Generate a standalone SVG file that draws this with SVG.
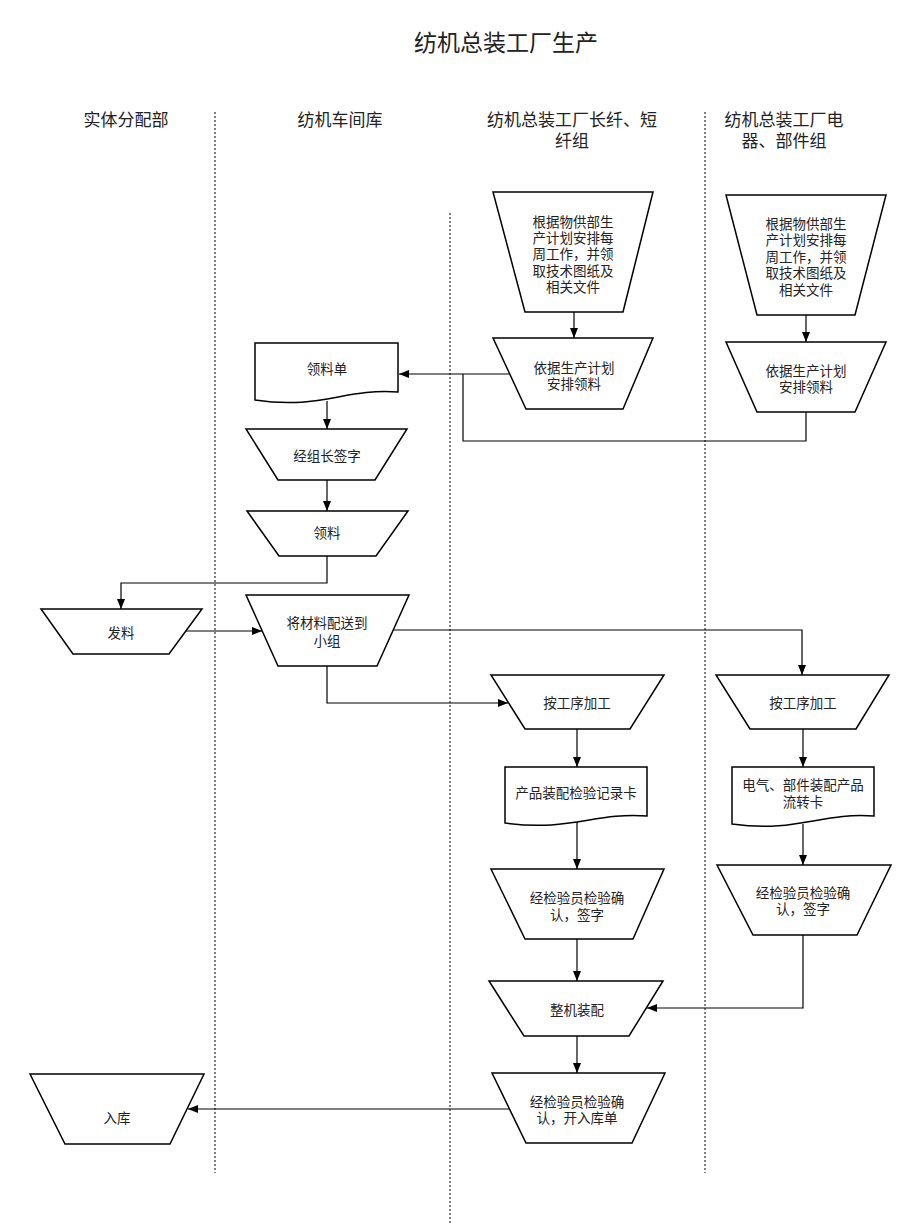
<svg xmlns="http://www.w3.org/2000/svg" width="920" height="1227" viewBox="0 0 920 1227">
<style>
text{font-family:"Noto Sans CJK SC","Noto Sans",sans-serif;fill:#222;text-anchor:middle}
.t{font-size:23px}
.h{font-size:17px}
.n{font-size:13.5px}
.s{fill:#fff;stroke:#000;stroke-width:1.5}
.c{fill:none;stroke:#000;stroke-width:1.2}
.d{stroke:#000;stroke-width:1;stroke-dasharray:2 2}
</style>
<defs>
<marker id="a" markerWidth="10" markerHeight="8" refX="10" refY="4" orient="auto" markerUnits="userSpaceOnUse">
<path d="M0,0 L10,4 L0,8 Z" fill="#000"/>
</marker>
</defs>
<rect width="920" height="1227" fill="#fff"/>
<text class="t" x="506" y="51">纺机总装工厂生产</text>
<g id="headers">
<text class="h" x="126" y="126">实体分配部</text>
<text class="h" x="340" y="126">纺机车间库</text>
<text class="h" x="572" y="126">纺机总装工厂长纤、短</text>
<text class="h" x="572" y="147">纤组</text>
<text class="h" x="784" y="126">纺机总装工厂电</text>
<text class="h" x="784" y="147">器、部件组</text>
</g>
<g id="dividers">
<line class="d" x1="215" y1="112" x2="215" y2="1173"/>
<line class="d" x1="450" y1="213" x2="450" y2="1225"/>
<line class="d" x1="705" y1="112" x2="705" y2="1173"/>
</g>
<g id="connectors">
<line class="c" x1="574" y1="312" x2="574" y2="338" marker-end="url(#a)"/>
<line class="c" x1="806" y1="315" x2="806" y2="342" marker-end="url(#a)"/>
<polyline class="c" points="509,374 399,374" marker-end="url(#a)"/>
<polyline class="c" points="806,412 806,441 463,441 463,374"/>
<line class="c" x1="327" y1="401" x2="327" y2="429" marker-end="url(#a)"/>
<line class="c" x1="327" y1="480" x2="327" y2="511" marker-end="url(#a)"/>
<polyline class="c" points="327,556 327,583 121,583 121,609" marker-end="url(#a)"/>
<line class="c" x1="186" y1="631" x2="262" y2="631" marker-end="url(#a)"/>
<polyline class="c" points="393,630 802,630 802,675" marker-end="url(#a)"/>
<polyline class="c" points="327,666 327,703 508,703" marker-end="url(#a)"/>
<line class="c" x1="577" y1="729" x2="577" y2="767" marker-end="url(#a)"/>
<line class="c" x1="803" y1="729" x2="803" y2="767" marker-end="url(#a)"/>
<line class="c" x1="577" y1="822" x2="577" y2="869" marker-end="url(#a)"/>
<line class="c" x1="803" y1="824" x2="803" y2="865" marker-end="url(#a)"/>
<line class="c" x1="577" y1="939" x2="577" y2="981" marker-end="url(#a)"/>
<polyline class="c" points="803,935 803,1008 647,1008" marker-end="url(#a)"/>
<line class="c" x1="577" y1="1036" x2="577" y2="1073" marker-end="url(#a)"/>
<line class="c" x1="509" y1="1109" x2="188" y2="1109" marker-end="url(#a)"/>
</g>
<g id="n1">
<polygon class="s" points="493,192 653,192 623,312 525,312"/>
<text class="n" x="573" y="227">根据物供部生</text>
<text class="n" x="573" y="243">产计划安排每</text>
<text class="n" x="573" y="259">周工作，并领</text>
<text class="n" x="573" y="276">取技术图纸及</text>
<text class="n" x="573" y="292">相关文件</text>
</g>
<g id="n2">
<polygon class="s" points="726,195 886,195 855,315 757,315"/>
<text class="n" x="806" y="229">根据物供部生</text>
<text class="n" x="806" y="245">产计划安排每</text>
<text class="n" x="806" y="262">周工作，并领</text>
<text class="n" x="806" y="278">取技术图纸及</text>
<text class="n" x="806" y="295">相关文件</text>
</g>
<g id="n3">
<polygon class="s" points="493,338 653,338 623,409 526,409"/>
<text class="n" x="574" y="373">依据生产计划</text>
<text class="n" x="574" y="389">安排领料</text>
</g>
<g id="n4">
<polygon class="s" points="726,342 886,342 855,412 757,412"/>
<text class="n" x="806" y="376">依据生产计划</text>
<text class="n" x="806" y="392">安排领料</text>
</g>
<g id="n5">
<path class="s" d="M255,343 H398 V392 C345,388 320,410 255,400 Z"/>
<text class="n" x="327" y="374">领料单</text>
</g>
<g id="n6">
<polygon class="s" points="246,429 407,429 375,480 278,480"/>
<text class="n" x="327" y="461">经组长签字</text>
</g>
<g id="n7">
<polygon class="s" points="247,511 408,511 376,556 279,556"/>
<text class="n" x="327" y="538">领料</text>
</g>
<g id="n8">
<polygon class="s" points="41,609 202,609 169,654 73,654"/>
<text class="n" x="121" y="638">发料</text>
</g>
<g id="n9">
<polygon class="s" points="246,595 409,595 377,666 278,666"/>
<text class="n" x="327" y="628">将材料配送到</text>
<text class="n" x="327" y="646">小组</text>
</g>
<g id="n10">
<polygon class="s" points="491,675 664,675 630,729 525,729"/>
<text class="n" x="577" y="708">按工序加工</text>
</g>
<g id="n11">
<polygon class="s" points="716,675 889,675 856,729 750,729"/>
<text class="n" x="803" y="708">按工序加工</text>
</g>
<g id="n12">
<path class="s" d="M505,767 H647 V816 C595,812 570,832 505,823 Z"/>
<text class="n" x="576" y="798">产品装配检验记录卡</text>
</g>
<g id="n13">
<path class="s" d="M732,767 H874 V816 C822,812 797,833 732,824 Z"/>
<text class="n" x="803" y="790">电气、部件装配产品</text>
<text class="n" x="803" y="807">流转卡</text>
</g>
<g id="n14">
<polygon class="s" points="491,869 664,869 633,939 525,939"/>
<text class="n" x="577" y="903">经检验员检验确</text>
<text class="n" x="577" y="920">认，签字</text>
</g>
<g id="n15">
<polygon class="s" points="717,865 891,865 857,935 753,935"/>
<text class="n" x="803" y="898">经检验员检验确</text>
<text class="n" x="803" y="914">认，签字</text>
</g>
<g id="n16">
<polygon class="s" points="489,981 663,981 629,1036 524,1036"/>
<text class="n" x="577" y="1015">整机装配</text>
</g>
<g id="n17">
<polygon class="s" points="492,1073 665,1073 632,1143 526,1143"/>
<text class="n" x="577" y="1107">经检验员检验确</text>
<text class="n" x="577" y="1123">认，开入库单</text>
</g>
<g id="n18">
<polygon class="s" points="30,1074 204,1074 170,1144 65,1144"/>
<text class="n" x="117" y="1123">入库</text>
</g>
</svg>
